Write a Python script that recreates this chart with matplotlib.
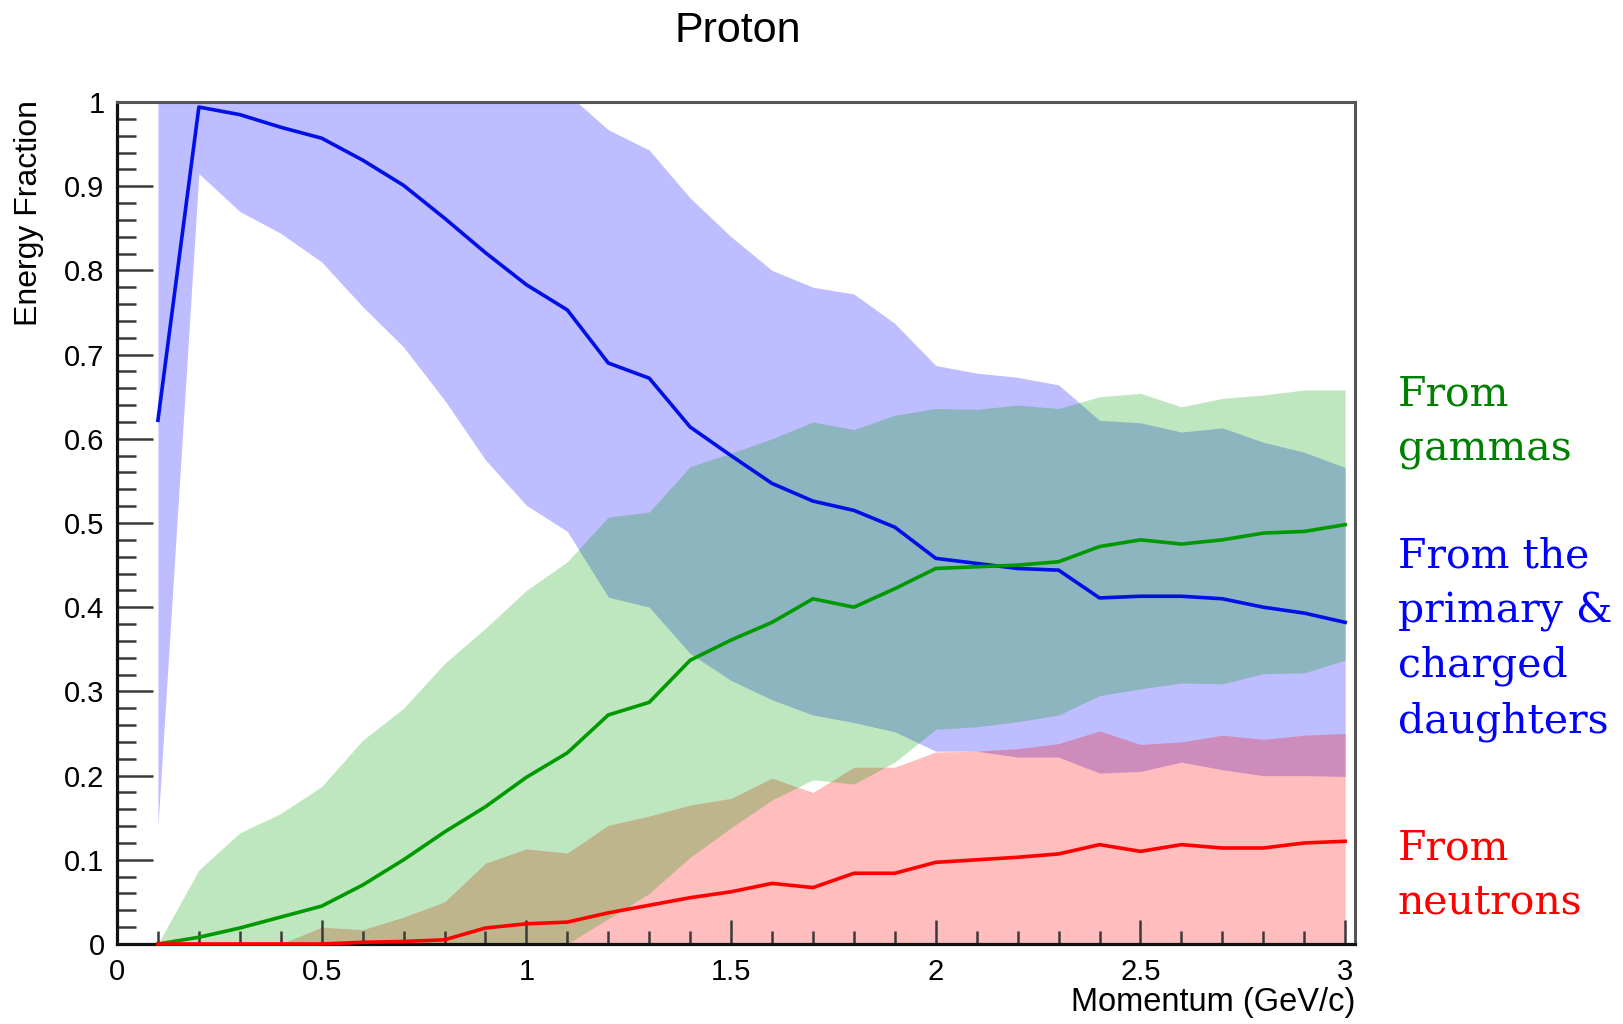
import matplotlib
matplotlib.use("Agg")
import matplotlib.pyplot as plt

plt.rcParams['font.family'] = ['Liberation Sans', 'DejaVu Sans']

# momentum bins (GeV/c)
momentum = [0.1, 0.2, 0.3, 0.4, 0.5, 0.6, 0.7, 0.8, 0.9, 1.0,
            1.1, 1.2, 1.3, 1.4, 1.5, 1.6, 1.7, 1.8, 1.9, 2.0,
            2.1, 2.2, 2.3, 2.4, 2.5, 2.6, 2.7, 2.8, 2.9, 3.0]

# primary & charged daughters
blue_mean = [0.622, 0.994, 0.985, 0.970, 0.957, 0.931, 0.901, 0.862, 0.821, 0.783,
             0.753, 0.690, 0.672, 0.614, 0.580, 0.547, 0.526, 0.515, 0.495, 0.458,
             0.452, 0.446, 0.444, 0.411, 0.413, 0.413, 0.410, 0.400, 0.393, 0.382]
blue_hi = [1.0, 1.0, 1.0, 1.0, 1.0, 1.0, 1.0, 1.0, 1.0, 1.0,
           1.01, 0.967, 0.943, 0.886, 0.840, 0.800, 0.780, 0.772, 0.737, 0.687,
           0.678, 0.673, 0.664, 0.622, 0.619, 0.608, 0.613, 0.596, 0.584, 0.566]
blue_lo = [0.140, 0.915, 0.870, 0.844, 0.810, 0.757, 0.709, 0.646, 0.575, 0.521,
           0.490, 0.412, 0.400, 0.345, 0.313, 0.290, 0.272, 0.263, 0.252, 0.229,
           0.229, 0.222, 0.222, 0.203, 0.205, 0.216, 0.207, 0.200, 0.200, 0.199]

# gammas
green_mean = [0.0, 0.008, 0.019, 0.032, 0.045, 0.070, 0.100, 0.133, 0.163, 0.198,
              0.227, 0.272, 0.287, 0.337, 0.361, 0.382, 0.410, 0.400, 0.422, 0.446,
              0.448, 0.450, 0.454, 0.472, 0.480, 0.475, 0.480, 0.488, 0.490, 0.498]
green_hi = [0.0, 0.088, 0.132, 0.155, 0.187, 0.242, 0.280, 0.333, 0.375, 0.420,
            0.454, 0.507, 0.513, 0.567, 0.583, 0.600, 0.620, 0.611, 0.628, 0.636,
            0.635, 0.640, 0.636, 0.650, 0.654, 0.638, 0.648, 0.652, 0.658, 0.658]
green_lo = [0.0, 0.0, 0.0, 0.0, 0.0, 0.0, 0.0, 0.0, 0.0, 0.0,
            0.0, 0.030, 0.060, 0.103, 0.138, 0.171, 0.195, 0.190, 0.216, 0.255,
            0.258, 0.264, 0.272, 0.295, 0.303, 0.310, 0.309, 0.321, 0.322, 0.337]

# neutrons
red_mean = [0.0, 0.0, 0.0, 0.0, 0.0, 0.002, 0.003, 0.005, 0.019, 0.024,
            0.026, 0.037, 0.046, 0.055, 0.062, 0.072, 0.067, 0.084, 0.084, 0.097,
            0.100, 0.103, 0.107, 0.118, 0.110, 0.118, 0.114, 0.114, 0.120, 0.122]
red_hi = [0.0, 0.0, 0.0, 0.0, 0.020, 0.017, 0.032, 0.050, 0.096, 0.113,
          0.108, 0.141, 0.152, 0.165, 0.173, 0.197, 0.180, 0.210, 0.210, 0.228,
          0.229, 0.232, 0.238, 0.253, 0.237, 0.240, 0.248, 0.243, 0.248, 0.250]
red_lo = [0.0] * 30

xticks = [0, 0.5, 1, 1.5, 2, 2.5, 3]
xtick_labels = ['0', '0.5', '1', '1.5', '2', '2.5', '3']
yticks = [0, 0.1, 0.2, 0.3, 0.4, 0.5, 0.6, 0.7, 0.8, 0.9, 1.0]
ytick_labels = ['0', '0.1', '0.2', '0.3', '0.4', '0.5', '0.6', '0.7', '0.8', '0.9', '1']

side_labels = [
    (['From', 'gammas'], '#008000', 405),
    (['From the', 'primary &', 'charged', 'daughters'], '#0000ff', 567),
    (['From', 'neutrons'], '#ff0000', 859),
]

W, H = 1623, 1024
fig = plt.figure(figsize=(W / 100, H / 100), dpi=100)
ax = fig.add_axes([117 / W, 1 - 944 / H, (1355 - 117) / W, (944 - 102) / H])

# bands: blue, red, green (overlap order)
ax.fill_between(momentum, blue_lo, blue_hi, color='#0000ff', alpha=0.26, lw=0)
ax.fill_between(momentum, red_lo, red_hi, color='#ff0000', alpha=0.26, lw=0)
ax.fill_between(momentum, green_lo, green_hi, color='#00a000', alpha=0.25, lw=0)

ax.plot(momentum, blue_mean, color='#0010e6', lw=2.6, zorder=4, clip_on=False)
ax.plot(momentum, green_mean, color='#009a00', lw=2.6, zorder=4, clip_on=False)
ax.plot(momentum, red_mean, color='#ff0000', lw=2.6, zorder=4, clip_on=False)

ax.set_xlim(0, 3.024)
ax.set_ylim(0, 1)
ax.set_xticks(xticks)
ax.set_xticklabels(xtick_labels)
ax.set_xticks([i / 10 for i in range(31)], minor=True)
ax.set_yticks(yticks)
ax.set_yticklabels(ytick_labels)
ax.set_yticks([i / 50 for i in range(51)], minor=True)

ax.tick_params(axis='both', which='both', direction='in', color='#3a3a3a',
               width=1.8, labelsize=21, top=False, right=False)
ax.tick_params(axis='y', which='major', length=26, pad=9)
ax.tick_params(axis='y', which='minor', length=13.5)
ax.tick_params(axis='x', which='major', length=17, pad=10)
ax.tick_params(axis='x', which='minor', length=9.5)

for s in ['left', 'bottom']:
    ax.spines[s].set_color('#111111')
    ax.spines[s].set_linewidth(2.3)
for s in ['top', 'right']:
    ax.spines[s].set_color('#555555')
    ax.spines[s].set_linewidth(2.2)

fig.text(738 / W, 1 - 31 / H, 'Proton', ha='center', va='center', fontsize=31)
fig.text(1355 / W, 1 - 1002 / H, 'Momentum (GeV/c)', ha='right', va='center', fontsize=23.5)
fig.text(29 / W, 1 - 100 / H, 'Energy Fraction', rotation=90, ha='center', va='top',
         fontsize=23)

for lines, col, y0 in side_labels:
    for i, line in enumerate(lines):
        fig.text(1398 / W, 1 - (y0 + i * 55) / H, line, color=col, ha='left',
                 va='baseline', fontsize=29.5, family='DejaVu Serif')

fig.savefig('out.png', dpi=100)
